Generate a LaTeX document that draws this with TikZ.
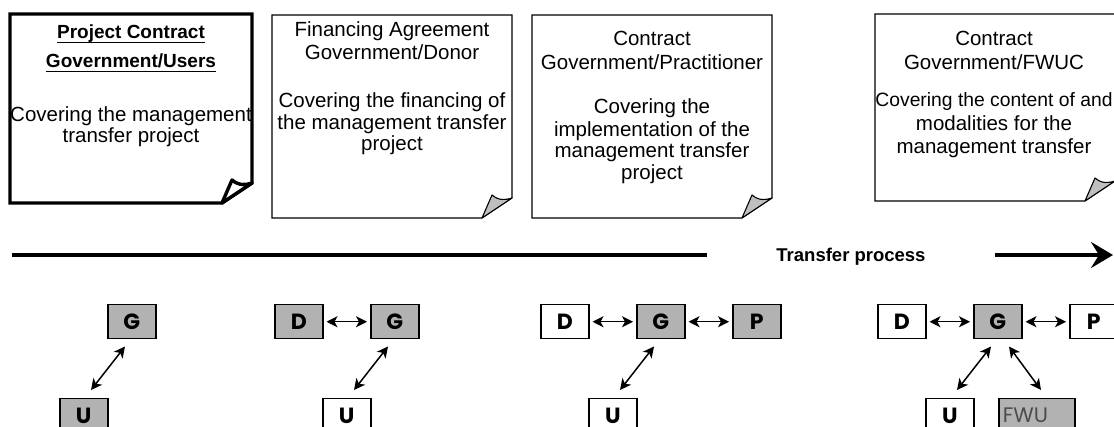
\documentclass[tikz,border=0pt]{standalone}
\usepackage{fontspec}
\setmainfont{Liberation Sans}
\newfontfamily\geofont{Poppins}
\usetikzlibrary{arrows.meta,calc}

% a sheet of paper with a curled lower right corner
% #1 left, #2 top, #3 right, #4 bottom, #5 extra style for outline and curl
\newcommand\docsheet[5]{%
  \draw[doc,#5] (#1,#2) -- (#3,#2) -- (#3,#4-20) -- (#3-30,#4) -- (#1,#4) -- cycle;
  \draw[curl,#5] (#3-30,#4) -- (#3-20,#4-23)
     .. controls (#3-13,#4-17) and (#3-6,#4-18) .. (#3,#4-20) -- cycle;
}

\begin{document}
\begin{tikzpicture}[x=1pt,y=-1pt,
  doc/.style={draw=black, line width=1.1pt, fill=white, line join=miter},
  curl/.style={draw=black, line width=1.1pt, fill=black!25, line join=round},
  bold sheet/.style={line width=3.4pt, fill=white},
  txt/.style={anchor=base, inner sep=0pt, font=\fontsize{20.5}{22}\selectfont},
  ttl/.style={anchor=base, inner sep=0pt, font=\fontsize{19}{22}\selectfont\bfseries},
  party/.style={draw=black, line width=1.5pt, minimum width=48pt, minimum height=34pt,
    inner sep=0pt, anchor=north west, fill=white,
    font=\geofont\fontsize{22}{22}\selectfont\bfseries},
  lead/.style={party, fill=black!30},
  link/.style={{Stealth[length=11pt,width=11pt,inset=3pt]}-{Stealth[length=11pt,width=11pt,inset=3pt]},
    line width=1.5pt},
  timeline/.style={line width=3.8pt},
]
\useasboundingbox (0,0) rectangle (1114,427);
\clip (0,0) rectangle (1114,427);
\fill[white] (0,0) rectangle (1114,427);

% ---- the four contracts ----
\docsheet{10}{14}{252}{203}{bold sheet}
\node[ttl] (c1a) at (131,39) {Project Contract};
\node[ttl] (c1b) at (131,68) {Government/Users};
\draw[line width=1.6pt] ([yshift=-3.5pt]c1a.base west) -- ([yshift=-3.5pt]c1a.base east);
\draw[line width=1.6pt] ([yshift=-3.5pt]c1b.base west) -- ([yshift=-3.5pt]c1b.base east);
\node[txt] (c1c) at (131,122) {Covering the management};
\node[txt] (c1d) at (131,143) {transfer project};

\docsheet{272}{15}{512}{218}{}
\node[txt] (c2a) at (392,37) {Financing Agreement};
\node[txt] (c2b) at (392,60) {Government/Donor};
\node[txt] (c2c) at (392,108) {Covering the financing of};
\node[txt] (c2d) at (392,130) {the management transfer};
\node[txt] (c2e) at (392,151) {project};

\docsheet{532}{15}{772}{218}{}
\node[txt] (c3a) at (652,46) {Contract};
\node[txt] (c3b) at (652,70) {Government/Practitioner};
\node[txt] (c3c) at (652,114) {Covering the};
\node[txt] (c3d) at (652,137) {implementation of the};
\node[txt] (c3e) at (652,158) {management transfer};
\node[txt] (c3f) at (652,180) {project};

\docsheet{875}{14}{1115}{201}{}
\node[txt] (c4a) at (994,46) {Contract};
\node[txt] (c4b) at (994,70) {Government/FWUC};
\node[txt, font=\fontsize{19.3}{22}\selectfont] (c4c) at (994,107) {Covering the content of and};
\node[txt] (c4d) at (994,131) {modalities for the};
\node[txt] (c4e) at (994,154) {management transfer};

% ---- timeline ----
\coordinate (tstart) at (12,255);
\coordinate (tend) at (1113,255);
\node[anchor=base, inner xsep=69pt, inner ysep=0pt, font=\fontsize{18.5}{20}\selectfont\bfseries]
  (tp) at (851,262) {Transfer process};
\draw[timeline] (tstart) -- (tstart -| tp.west);
\draw[timeline, -{Stealth[length=22pt,width=26pt,inset=8pt]}] (tstart -| tp.east) -- (tend);

% ---- parties, stage 1 ----
\node[lead] (g1) at (107,304) {G};
\node[lead] (u1) at (59,398) {U};
\draw[link] ([shift={(32,-8)}]u1.north west) -- ([shift={(18,7)}]g1.south west);

% ---- stage 2 ----
\node[lead] (d2) at (274,304) {D};
\node[lead] (g2) at (370,304) {G};
\node[party] (u2) at (322,398) {U};
\draw[link] ([xshift=3pt]d2.east) -- ([xshift=-3pt]g2.west);
\draw[link] ([shift={(32,-8)}]u2.north west) -- ([shift={(18,7)}]g2.south west);

% ---- stage 3 ----
\node[party] (d3) at (540,304) {D};
\node[lead] (g3) at (636,304) {G};
\node[lead] (p3) at (732,304) {P};
\node[party] (u3) at (588,398) {U};
\draw[link] ([xshift=3pt]d3.east) -- ([xshift=-3pt]g3.west);
\draw[link] ([xshift=3pt]g3.east) -- ([xshift=-3pt]p3.west);
\draw[link] ([shift={(32,-8)}]u3.north west) -- ([shift={(18,7)}]g3.south west);

% ---- stage 4 ----
\node[party] (d4) at (877,304) {D};
\node[lead] (g4) at (973,304) {G};
\node[party] (p4) at (1069,304) {P};
\node[party] (u4) at (925,398) {U};
\node[lead, minimum width=76pt, text width=68pt, align=left,
  font=\geofont\fontsize{21}{21}\selectfont, text=black!70] (f4) at (998,398) {FWU};
\draw[link] ([xshift=3pt]d4.east) -- ([xshift=-3pt]g4.west);
\draw[link] ([xshift=3pt]g4.east) -- ([xshift=-3pt]p4.west);
\draw[link] ([shift={(32,-8)}]u4.north west) -- ([shift={(18,7)}]g4.south west);
\draw[link] ([shift={(36,7)}]g4.south west) -- ([shift={(43,-8)}]f4.north west);
\end{tikzpicture}
\end{document}
